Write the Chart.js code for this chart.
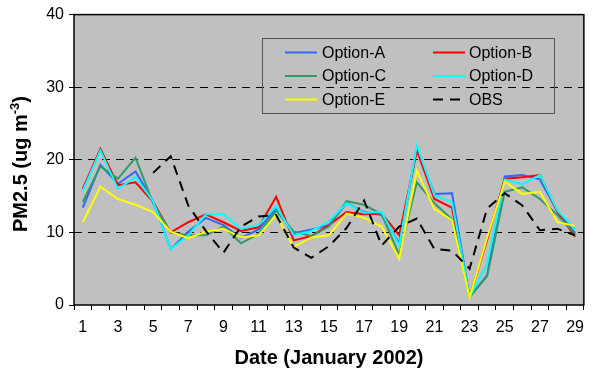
<!DOCTYPE html>
<html>
<head>
<meta charset="utf-8">
<script src="https://cdn.jsdelivr.net/npm/chart.js@4"></script>
<style>
  html, body { margin: 0; padding: 0; background: #ffffff; }
  #wrap { width: 592px; height: 370px; }
</style>
</head>
<body>
<div id="wrap"><canvas id="c" width="592" height="370"></canvas></div>
<script>
// Daily PM2.5 (ug m-3), January 2002: five model options and observations
const days = ['1','2','3','4','5','6','7','8','9','10','11','12','13','14','15',
              '16','17','18','19','20','21','22','23','24','25','26','27','28','29'];

const optionA = [13.4, 19.3, 16.7, 18.4, 14.3, 7.7, 10.1, 12.0, 11.0, 9.2, 10.4, 13.3, 9.9, 10.4, 11.0,
                 14.0, 12.8, 12.4, 8.5, 21.5, 15.3, 15.4, 1.1, 4.1, 17.7, 17.9, 17.3, 12.9, 9.9];
const optionB = [16.0, 21.5, 16.5, 16.9, 14.2, 10.0, 11.4, 12.5, 11.4, 10.2, 10.7, 14.9, 8.9, 9.5, 11.0,
                 12.8, 12.5, 12.6, 9.6, 21.3, 14.6, 13.4, 1.1, 9.0, 17.4, 17.6, 17.9, 12.8, 9.4];
const optionC = [14.2, 19.1, 17.4, 20.3, 14.0, 10.0, 9.6, 9.6, 10.8, 8.5, 9.8, 13.0, 10.1, 9.5, 10.8,
                 14.3, 13.8, 12.5, 6.9, 16.9, 14.0, 11.8, 1.1, 4.0, 15.6, 16.2, 14.6, 12.4, 9.8];
const optionD = [15.7, 21.3, 16.0, 17.6, 14.3, 7.7, 9.6, 12.5, 12.5, 10.5, 11.0, 13.6, 9.6, 10.2, 11.5,
                 14.0, 12.7, 12.8, 8.2, 22.0, 15.1, 14.2, 1.1, 5.7, 17.3, 16.6, 17.9, 13.0, 10.5];
const optionE = [11.4, 16.3, 14.6, 13.8, 12.8, 10.1, 9.2, 10.1, 10.5, 9.3, 9.6, 12.4, 8.0, 9.3, 9.6,
                 12.6, 12.0, 10.8, 6.4, 18.5, 13.2, 11.7, 1.0, 9.3, 17.0, 15.3, 15.6, 11.4, 10.9];
const obs     = [null, null, null, null, 18.2, 20.5, 13.7, 10.2, 7.2, 10.8, 12.2, 12.4, 7.9, 6.5, 8.1,
                 10.6, 14.4, 8.2, 10.8, 11.9, 7.7, 7.5, 5.0, 13.3, 15.4, 13.7, 10.3, 10.5, 9.6];

const yTicks = [0, 10, 20, 30, 40];

const FONT = "'Liberation Sans', Arial, sans-serif";

function series(label, data, color, order, dash) {
  return {
    label: label,
    data: data,
    borderColor: color,
    backgroundColor: color,
    borderWidth: 2,
    borderDash: dash || [],
    pointRadius: 0,
    pointHoverRadius: 0,
    tension: 0,
    fill: false,
    spanGaps: false,
    order: order
  };
}

// Grey plotting area
const plotBackground = {
  id: 'plotBackground',
  beforeDraw(chart) {
    const { ctx, chartArea: a } = chart;
    ctx.save();
    ctx.fillStyle = '#C0C0C0';
    ctx.fillRect(a.left, a.top, a.right - a.left, a.bottom - a.top);
    ctx.restore();
  }
};

// Frame, axis titles and the two-column legend box
const decorations = {
  id: 'decorations',
  afterDraw(chart) {
    const { ctx, chartArea: a } = chart;
    ctx.save();

    // frame
    ctx.strokeStyle = '#000';
    ctx.lineWidth = 1.5;
    ctx.setLineDash([]);
    ctx.strokeRect(a.left, a.top, a.right - a.left, a.bottom - a.top);

    // x title
    ctx.fillStyle = '#000';
    ctx.font = 'bold 20px ' + FONT;
    ctx.textAlign = 'center';
    ctx.textBaseline = 'middle';
    ctx.fillText('Date (January 2002)', (a.left + a.right) / 2, 358);

    // y title with superscript
    ctx.save();
    ctx.translate(27, 164);
    ctx.rotate(-Math.PI / 2);
    ctx.textAlign = 'left';
    ctx.textBaseline = 'alphabetic';
    const mainFont = 'bold 20px ' + FONT;
    const supFont = 'bold 13px ' + FONT;
    const p1 = 'PM2.5 (ug m', p2 = '-3', p3 = ')';
    ctx.font = mainFont; const w1 = ctx.measureText(p1).width; const w3 = ctx.measureText(p3).width;
    ctx.font = supFont; const w2 = ctx.measureText(p2).width;
    let x = -(w1 + w2 + w3) / 2;
    ctx.font = mainFont; ctx.fillText(p1, x, 0); x += w1;
    ctx.font = supFont; ctx.fillText(p2, x, -8); x += w2;
    ctx.font = mainFont; ctx.fillText(p3, x, 0);
    ctx.restore();

    // legend
    ctx.strokeStyle = '#555';
    ctx.lineWidth = 1;
    ctx.strokeRect(262.5, 38.5, 292, 75);
    const rows = [52.5, 76, 99.5];
    const cols = [{ x0: 285, x1: 317, tx: 322 }, { x0: 433, x1: 465, tx: 469 }];
    ctx.font = '16px ' + FONT;
    ctx.textAlign = 'left';
    ctx.textBaseline = 'middle';
    chart.data.datasets.forEach((ds, i) => {
      const r = rows[Math.floor(i / 2)], c = cols[i % 2];
      ctx.strokeStyle = ds.borderColor;
      ctx.lineWidth = 2;
      ctx.setLineDash(ds.borderDash || []);
      ctx.beginPath();
      ctx.moveTo(c.x0, r);
      ctx.lineTo(c.x1, r);
      ctx.stroke();
      ctx.setLineDash([]);
      ctx.fillStyle = '#000';
      ctx.fillText(ds.label, c.tx, r + 1);
    });

    ctx.restore();
  }
};

new Chart(document.getElementById('c'), {
  type: 'line',
  data: {
    labels: days,
    datasets: [
      series('Option-A', optionA, '#3366FF', 6),
      series('Option-B', optionB, '#FF0000', 5),
      series('Option-C', optionC, '#339966', 4),
      series('Option-D', optionD, '#00FFFF', 3),
      series('Option-E', optionE, '#FFFF00', 2),
      series('OBS', obs, '#000000', 1, [10, 7])
    ]
  },
  options: {
    responsive: false,
    animation: false,
    devicePixelRatio: 1,
    layout: { padding: { left: 0, right: 2, top: 14, bottom: 0 } },
    plugins: {
      legend: { display: false },
      title: { display: false },
      tooltip: { enabled: false }
    },
    scales: {
      x: {
        type: 'category',
        offset: true,
        grid: {
          offset: true,
          drawOnChartArea: false,
          drawTicks: true,
          tickLength: 5,
          tickColor: '#000',
          tickWidth: 1
        },
        border: { display: false },
        ticks: {
          autoSkip: false,
          maxRotation: 0,
          minRotation: 0,
          padding: 8,
          color: '#000',
          font: { family: FONT, size: 16 },
          callback: function (value, index) { return index % 2 === 0 ? days[index] : ''; }
        },
        afterFit(scale) { scale.height = 65; }
      },
      y: {
        min: yTicks[0],
        max: yTicks[yTicks.length - 1],
        afterBuildTicks(scale) { scale.ticks = yTicks.map(v => ({ value: v })); },
        grid: {
          drawOnChartArea: true,
          drawTicks: true,
          tickLength: 5,
          tickColor: '#000',
          tickWidth: 1,
          lineWidth: 1,
          color: ctx => (ctx.tick && (ctx.tick.value === 0 || ctx.tick.value === 40)) ? 'rgba(0,0,0,0)' : '#000'
        },
        border: { display: false, dash: [8, 6] },
        ticks: {
          padding: 5,
          color: '#000',
          font: { family: FONT, size: 16 },
          callback: v => String(v)
        },
        afterFit(scale) { scale.width = 74; }
      }
    }
  },
  plugins: [plotBackground, decorations]
});
</script>
</body>
</html>
